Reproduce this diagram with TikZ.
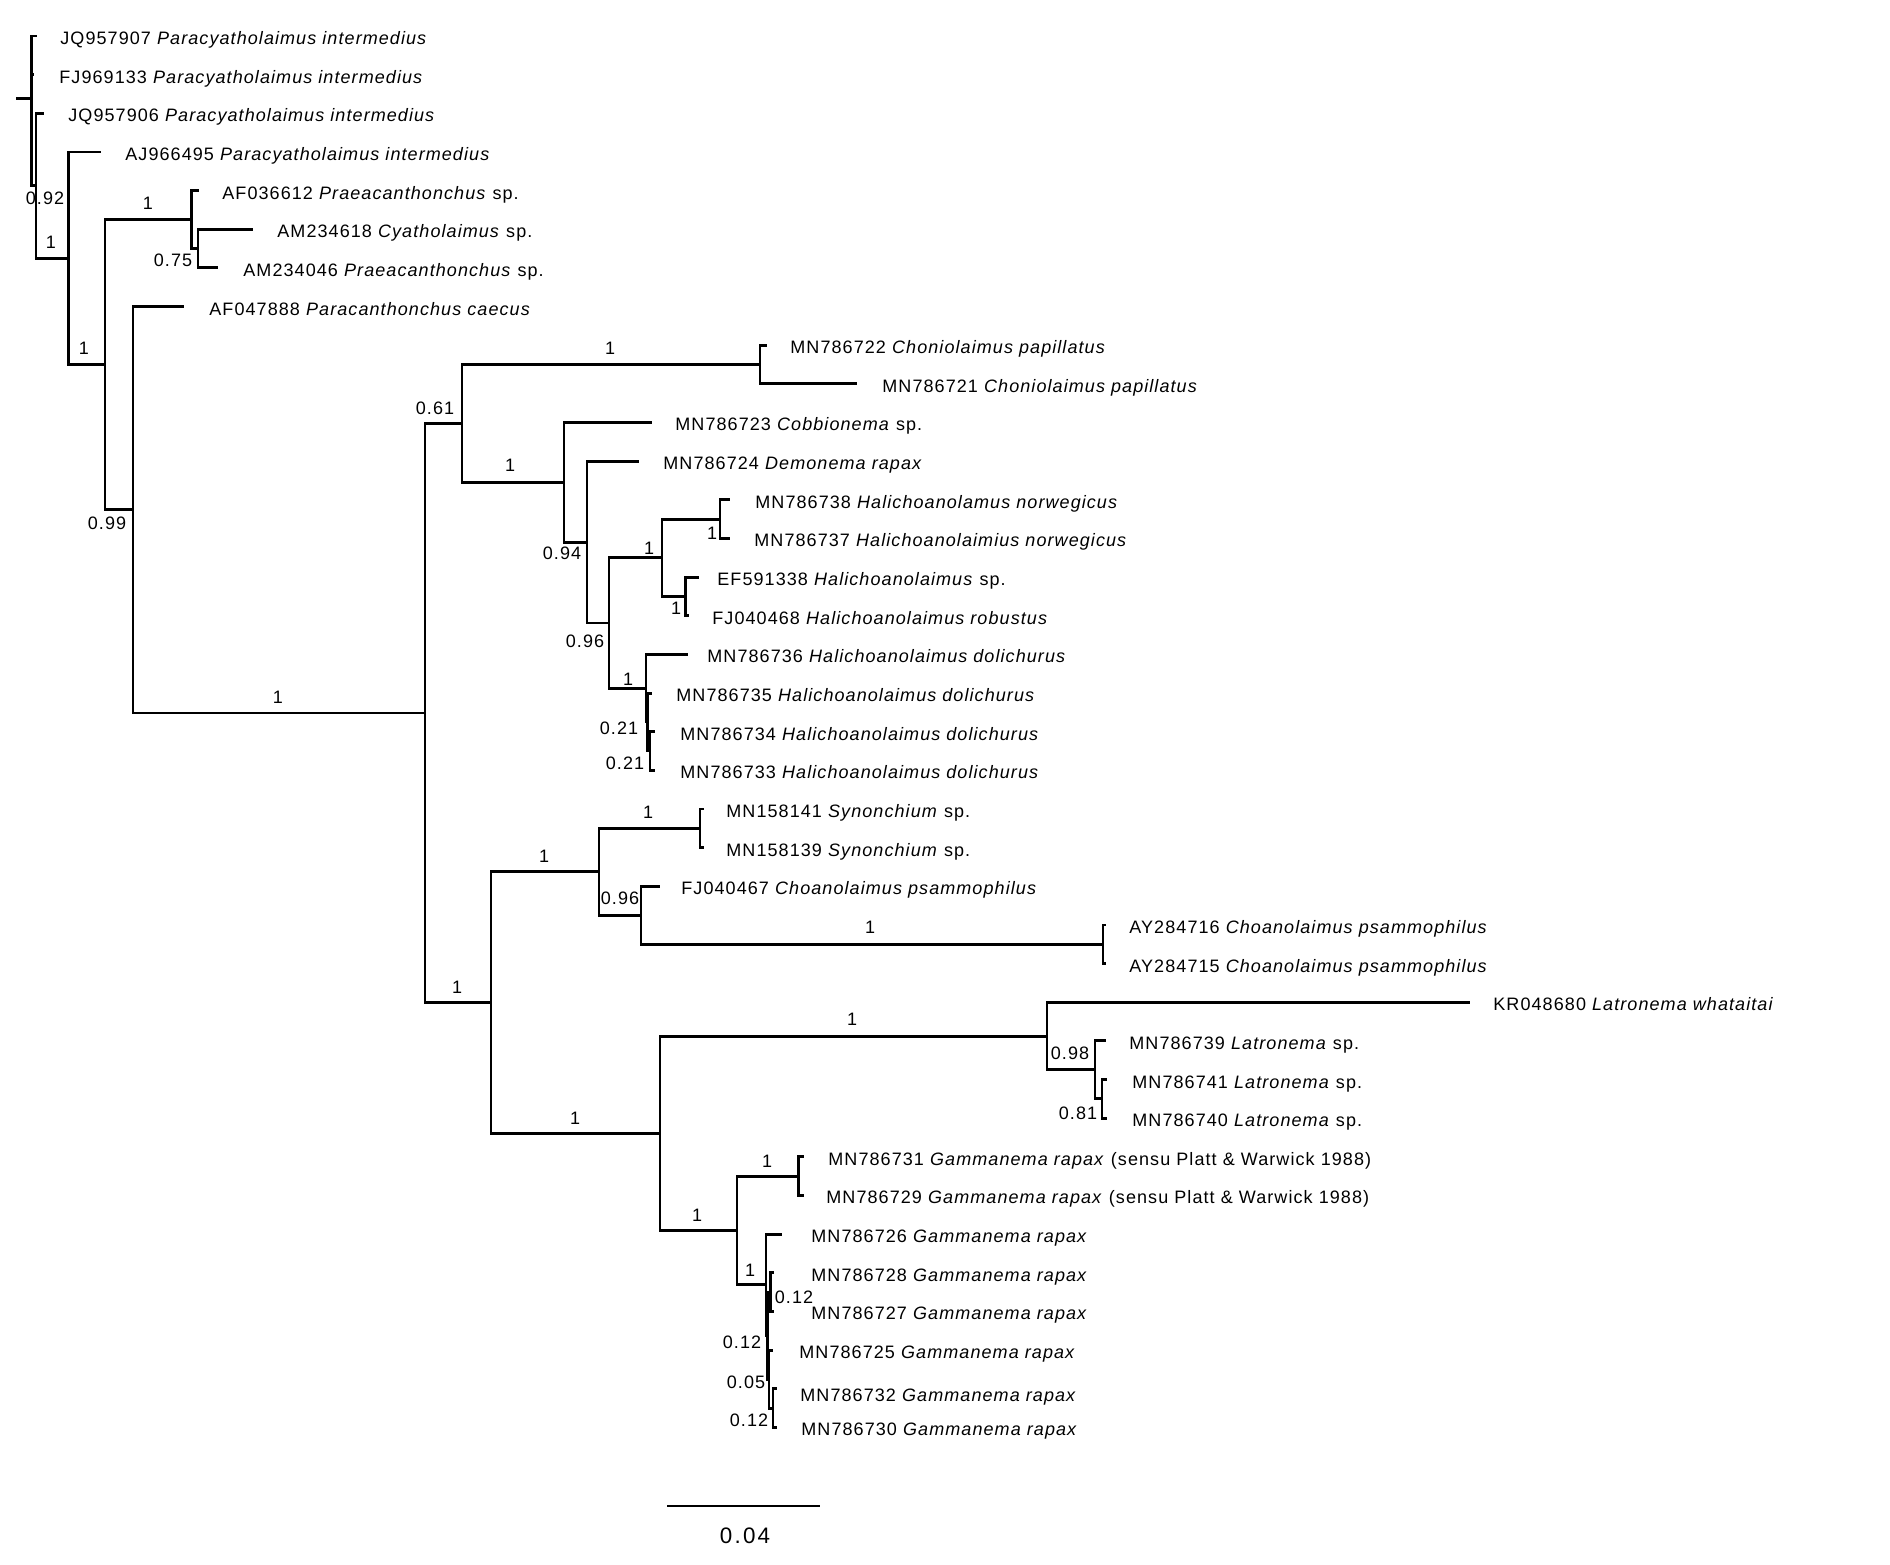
\documentclass[tikz,border=0pt]{standalone}
\usepackage{fontspec}
\setmainfont{Liberation Sans}[LetterSpace=6]
\tikzset{
    branch/.style={line width=1.45pt},
    taxon/.style={anchor=west,inner sep=0pt,text height=6.45pt,text depth=0pt,font=\fontsize{9}{11}\selectfont},
    support/.style={inner sep=0pt,text height=6.45pt,text depth=0pt,font=\fontsize{9}{11}\selectfont},
    scalelab/.style={inner sep=0pt,text height=8pt,text depth=0pt,font=\fontsize{11.2}{13}\selectfont\addfontfeatures{LetterSpace=10}}
}

\begin{document}
\begin{tikzpicture}[x=0.5pt,y=-19.325pt]
\useasboundingbox (0,-0.9314) rectangle (1890,39.5343);
% branch tips
\coordinate (jq957907) at (37.3,0);
\coordinate (fj969133) at (34,1);
\coordinate (jq957906) at (44.3,2);
\coordinate (aj966495) at (101,3);
\coordinate (af036612) at (199,4);
\coordinate (am234618) at (252.6,5);
\coordinate (am234046) at (218,6);
\coordinate (af047888) at (184,7);
\coordinate (mn786722) at (767,8);
\coordinate (mn786721) at (857,9);
\coordinate (mn786723) at (652,10);
\coordinate (mn786724) at (639,11);
\coordinate (mn786738) at (730,12);
\coordinate (mn786737) at (730,13);
\coordinate (ef591338) at (698.5,14);
\coordinate (fj040468) at (689,15);
\coordinate (mn786736) at (688,16);
\coordinate (mn786735) at (652,17);
\coordinate (mn786734) at (655,18);
\coordinate (mn786733) at (655,19);
\coordinate (mn158141) at (704,20);
\coordinate (mn158139) at (704,21);
\coordinate (fj040467) at (660,22);
\coordinate (ay284716) at (1106,23);
\coordinate (ay284715) at (1106,24);
\coordinate (kr048680) at (1470,25);
\coordinate (mn786739) at (1106,26);
\coordinate (mn786741) at (1107,27);
\coordinate (mn786740) at (1107,28);
\coordinate (mn786731) at (804,29);
\coordinate (mn786729) at (804,30);
\coordinate (mn786726) at (782,31);
\coordinate (mn786728) at (774,32);
\coordinate (mn786727) at (774,33);
\coordinate (mn786725) at (772.7,34);
\coordinate (mn786732) at (777,35);
\coordinate (mn786730) at (777,36);
% inner nodes
\coordinate (rootstub) at (16,1.6253);
\coordinate (root) at (31.7,1.6253);
\coordinate (nA) at (36,3.8760);
\coordinate (nB) at (68.3,5.7520);
\coordinate (nD) at (105,8.5039);
\coordinate (nE) at (191.7,4.75);
\coordinate (nF) at (198,5.5);
\coordinate (nG) at (133,12.2578);
\coordinate (nH) at (425,17.5156);
\coordinate (nI) at (462,10.0234);
\coordinate (nJ) at (760,8.5);
\coordinate (nK) at (564,11.5469);
\coordinate (nL) at (587,13.0938);
\coordinate (nM) at (609,15.1875);
\coordinate (nN) at (662,13.5);
\coordinate (nP) at (720,12.5);
\coordinate (nQ) at (685.7,14.5);
\coordinate (nO) at (646,16.875);
\coordinate (nR) at (647.5,17.75);
\coordinate (nS) at (650,18.5);
\coordinate (nT) at (491,25.0078);
\coordinate (nU) at (599,21.625);
\coordinate (nV) at (700,20.5);
\coordinate (nW) at (641,22.75);
\coordinate (nX) at (1103,23.5);
\coordinate (nY) at (660,28.3906);
\coordinate (nZ) at (1047,25.875);
\coordinate (nAA) at (1095,26.75);
\coordinate (nAB) at (1102,27.5);
\coordinate (nAC) at (737,30.9063);
\coordinate (nAD) at (798.7,29.5);
\coordinate (nAE) at (766,32.3125);
\coordinate (nAF) at (767.5,33.625);
\coordinate (nAG) at (770.7,32.5);
\coordinate (nAH) at (769,34.75);
\coordinate (nAI) at (773,35.5);
% branches
\draw[branch] (rootstub) -- (root);
\draw[branch] (root) |- (jq957907) (root) |- (fj969133) (root) |- (nA);
\draw[branch] (nA) |- (jq957906) (nA) |- (nB);
\draw[branch] (nB) |- (aj966495) (nB) |- (nD);
\draw[branch] (nD) |- (nE) (nD) |- (nG);
\draw[branch] (nE) |- (af036612) (nE) |- (nF);
\draw[branch] (nF) |- (am234618) (nF) |- (am234046);
\draw[branch] (nG) |- (af047888) (nG) |- (nH);
\draw[branch] (nH) |- (nI) (nH) |- (nT);
\draw[branch] (nI) |- (nJ) (nI) |- (nK);
\draw[branch] (nJ) |- (mn786722) (nJ) |- (mn786721);
\draw[branch] (nK) |- (mn786723) (nK) |- (nL);
\draw[branch] (nL) |- (mn786724) (nL) |- (nM);
\draw[branch] (nM) |- (nN) (nM) |- (nO);
\draw[branch] (nN) |- (nP) (nN) |- (nQ);
\draw[branch] (nP) |- (mn786738) (nP) |- (mn786737);
\draw[branch] (nQ) |- (ef591338) (nQ) |- (fj040468);
\draw[branch] (nO) |- (mn786736) (nO) |- (nR);
\draw[branch] (nR) |- (mn786735) (nR) |- (nS);
\draw[branch] (nS) |- (mn786734) (nS) |- (mn786733);
\draw[branch] (nT) |- (nU) (nT) |- (nY);
\draw[branch] (nU) |- (nV) (nU) |- (nW);
\draw[branch] (nV) |- (mn158141) (nV) |- (mn158139);
\draw[branch] (nW) |- (fj040467) (nW) |- (nX);
\draw[branch] (nX) |- (ay284716) (nX) |- (ay284715);
\draw[branch] (nY) |- (nZ) (nY) |- (nAC);
\draw[branch] (nZ) |- (kr048680) (nZ) |- (nAA);
\draw[branch] (nAA) |- (mn786739) (nAA) |- (nAB);
\draw[branch] (nAB) |- (mn786741) (nAB) |- (mn786740);
\draw[branch] (nAC) |- (nAD) (nAC) |- (nAE);
\draw[branch] (nAD) |- (mn786731) (nAD) |- (mn786729);
\draw[branch] (nAE) |- (mn786726) (nAE) |- (nAF);
\draw[branch] (nAF) |- (nAG) (nAF) |- (nAH);
\draw[branch] (nAG) |- (mn786728) (nAG) |- (mn786727);
\draw[branch] (nAH) |- (mn786725) (nAH) |- (nAI);
\draw[branch] (nAI) |- (mn786732) (nAI) |- (mn786730);
% taxon names
\node[taxon] (t-jq957907) at (60,0.052) {JQ957907 \textit{Paracyatholaimus intermedius}};
\node[taxon] (t-fj969133) at (59,1.052) {FJ969133 \textit{Paracyatholaimus intermedius}};
\node[taxon] (t-jq957906) at (68,2.052) {JQ957906 \textit{Paracyatholaimus intermedius}};
\node[taxon] (t-aj966495) at (125,3.052) {AJ966495 \textit{Paracyatholaimus intermedius}};
\node[taxon] (t-af036612) at (222,4.052) {AF036612 \textit{Praeacanthonchus} sp.};
\node[taxon] (t-am234618) at (277,5.052) {AM234618 \textit{Cyatholaimus} sp.};
\node[taxon] (t-am234046) at (243,6.052) {AM234046 \textit{Praeacanthonchus} sp.};
\node[taxon] (t-af047888) at (209,7.052) {AF047888 \textit{Paracanthonchus caecus}};
\node[taxon] (t-mn786722) at (790,8.052) {MN786722 \textit{Choniolaimus papillatus}};
\node[taxon] (t-mn786721) at (882,9.052) {MN786721 \textit{Choniolaimus papillatus}};
\node[taxon] (t-mn786723) at (675,10.052) {MN786723 \textit{Cobbionema} sp.};
\node[taxon] (t-mn786724) at (663,11.052) {MN786724 \textit{Demonema rapax}};
\node[taxon] (t-mn786738) at (755,12.052) {MN786738 \textit{Halichoanolamus norwegicus}};
\node[taxon] (t-mn786737) at (754,13.052) {MN786737 \textit{Halichoanolaimius norwegicus}};
\node[taxon] (t-ef591338) at (717,14.052) {EF591338 \textit{Halichoanolaimus} sp.};
\node[taxon] (t-fj040468) at (712,15.052) {FJ040468 \textit{Halichoanolaimus robustus}};
\node[taxon] (t-mn786736) at (707,16.052) {MN786736 \textit{Halichoanolaimus dolichurus}};
\node[taxon] (t-mn786735) at (676,17.052) {MN786735 \textit{Halichoanolaimus dolichurus}};
\node[taxon] (t-mn786734) at (680,18.052) {MN786734 \textit{Halichoanolaimus dolichurus}};
\node[taxon] (t-mn786733) at (680,19.052) {MN786733 \textit{Halichoanolaimus dolichurus}};
\node[taxon] (t-mn158141) at (726,20.052) {MN158141 \textit{Synonchium} sp.};
\node[taxon] (t-mn158139) at (726,21.052) {MN158139 \textit{Synonchium} sp.};
\node[taxon] (t-fj040467) at (681,22.052) {FJ040467 \textit{Choanolaimus psammophilus}};
\node[taxon] (t-ay284716) at (1129,23.052) {AY284716 \textit{Choanolaimus psammophilus}};
\node[taxon] (t-ay284715) at (1129,24.052) {AY284715 \textit{Choanolaimus psammophilus}};
\node[taxon] (t-kr048680) at (1493,25.052) {KR048680 \textit{Latronema whataitai}};
\node[taxon] (t-mn786739) at (1129,26.052) {MN786739 \textit{Latronema} sp.};
\node[taxon] (t-mn786741) at (1132,27.052) {MN786741 \textit{Latronema} sp.};
\node[taxon] (t-mn786740) at (1132,28.052) {MN786740 \textit{Latronema} sp.};
\node[taxon] (t-mn786731) at (828,29.052) {MN786731 \textit{Gammanema rapax} (sensu Platt \& Warwick 1988)};
\node[taxon] (t-mn786729) at (826,30.052) {MN786729 \textit{Gammanema rapax} (sensu Platt \& Warwick 1988)};
\node[taxon] (t-mn786726) at (811,31.052) {MN786726 \textit{Gammanema rapax}};
\node[taxon] (t-mn786728) at (811,32.052) {MN786728 \textit{Gammanema rapax}};
\node[taxon] (t-mn786727) at (811,33.052) {MN786727 \textit{Gammanema rapax}};
\node[taxon] (t-mn786725) at (799,34.052) {MN786725 \textit{Gammanema rapax}};
\node[taxon] (t-mn786732) at (800,35.155) {MN786732 \textit{Gammanema rapax}};
\node[taxon] (t-mn786730) at (801,36.052) {MN786730 \textit{Gammanema rapax}};
% support values
\node[support] (s-nA) at (45,4.1915) {0.92};
\node[support] (s-nB) at (51,5.330) {1};
\node[support] (s-nD) at (84,8.072) {1};
\node[support] (s-nE) at (148,4.321) {1};
\node[support] (s-nF) at (173,5.796) {0.75};
\node[support] (s-nG) at (107,12.600) {0.99};
\node[support] (s-nH) at (278,17.102) {1};
\node[support] (s-nI) at (435,9.625) {0.61};
\node[support] (s-nJ) at (610,8.072) {1};
\node[support] (s-nK) at (510,11.10) {1};
\node[support] (s-nL) at (562,13.376) {0.94};
\node[support] (s-nM) at (585,15.653) {0.96};
\node[support] (s-nN) at (649,13.247) {1};
\node[support] (s-nP) at (712,12.859) {1};
\node[support] (s-nQ) at (676,14.799) {1};
\node[support] (s-nO) at (628,16.636) {1};
\node[support] (s-nR) at (619,17.904) {0.21};
\node[support] (s-nS) at (625,18.810) {0.21};
\node[support] (s-nT) at (457,24.605) {1};
\node[support] (s-nU) at (544,21.216) {1};
\node[support] (s-nV) at (648,20.078) {1};
\node[support] (s-nW) at (620,22.303) {0.96};
\node[support] (s-nX) at (870,23.053) {1};
\node[support] (s-nY) at (575,28.0) {1};
\node[support] (s-nZ) at (852,25.433) {1};
\node[support] (s-nAA) at (1070,26.313) {0.98};
\node[support] (s-nAB) at (1078,27.866) {0.81};
\node[support] (s-nAC) at (697,30.505) {1};
\node[support] (s-nAD) at (767,29.107) {1};
\node[support] (s-nAE) at (750,31.927) {1};
\node[support] (s-nAG) at (794,32.626) {0.12};
\node[support] (s-nAF) at (742,33.790) {0.12};
\node[support] (s-nAH) at (746,34.825) {0.05};
\node[support] (s-nAI) at (749,35.808) {0.12};
% scale bar
\coordinate (barl) at (667,38.034);
\coordinate (barr) at (820,38.034);
\draw[branch] (barl) -- (barr);
\node[scalelab] (barlab) at (745,38.784) {0.04};
\end{tikzpicture}
\end{document}
